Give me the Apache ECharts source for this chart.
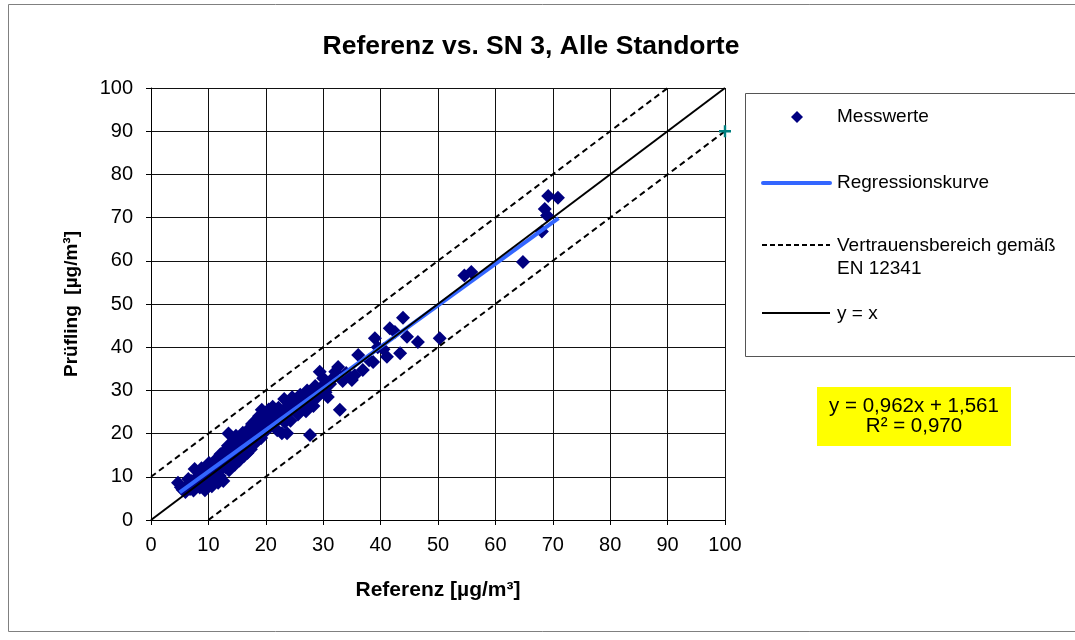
<!DOCTYPE html>
<html><head><meta charset="utf-8">
<script src="https://cdn.jsdelivr.net/npm/echarts@6/dist/echarts.min.js"></script>
<style>html,body{margin:0;padding:0;background:#fff}#c{width:1075px;height:640px}</style>
</head><body><div id="c"></div>
<script>
const titleText = 'Referenz vs. SN 3, Alle Standorte';
const xName = 'Referenz [µg/m³]';
const yName = 'Prüfling  [µg/m³]';
const measured = [
[4.7,8.6],[5.5,7.0],[6.0,6.5],[6.3,8.0],[6.8,7.2],[7.0,9.0],[7.4,6.8],[7.6,11.8],[8.0,8.5],[8.2,10.2],
[8.5,7.5],[8.8,12.0],[9.0,9.3],[9.3,10.8],[9.4,6.9],[9.7,8.4],[9.9,11.5],[10.1,13.2],[10.3,9.6],[10.6,7.8],
[10.8,12.4],[11.0,10.5],[11.3,14.0],[11.5,11.2],[11.7,8.6],[11.9,13.0],[12.1,15.2],[12.3,11.8],[12.4,13.6],[12.6,9.0],
[12.8,16.0],[13.0,12.2],[13.2,14.8],[13.4,17.2],[13.5,20.0],[13.6,11.5],[13.8,15.5],[14.0,13.3],[14.2,18.0],[14.4,16.4],
[14.6,12.8],[14.8,19.5],[15.0,15.0],[15.2,17.0],[15.4,13.8],[15.6,18.6],[15.8,16.2],[16.0,20.2],[16.2,14.8],[16.4,17.5],
[16.6,19.0],[16.8,15.5],[17.0,21.0],[17.2,18.2],[17.4,16.4],[17.6,22.2],[17.8,19.4],[18.0,17.6],[18.2,23.0],[18.4,20.4],
[18.6,18.5],[18.8,24.0],[19.0,21.6],[19.3,25.5],[19.2,19.0],[19.5,22.8],[19.8,24.8],[20.0,20.6],[20.2,23.2],[20.5,25.6],
[20.7,21.5],[21.0,24.0],[21.2,26.2],[21.5,22.4],[21.8,25.0],[22.0,20.8],[22.2,26.0],[22.5,23.6],[22.8,20.1],[23.0,25.2],
[23.2,28.0],[23.5,24.2],[23.7,20.1],[24.0,26.6],[24.3,23.0],[24.6,28.4],[25.0,25.5],[25.3,27.2],[25.6,24.4],[26.0,29.0],
[26.3,26.3],[26.6,28.2],[27.0,25.2],[27.2,30.0],[27.5,27.4],[27.7,19.7],[28.0,29.2],[28.3,26.4],[28.6,31.0],[29.0,28.5],
[29.4,34.3],[29.6,30.6],[30.0,32.8],[30.4,29.6],[30.8,28.5],[31.2,31.5],[31.8,33.0],[32.1,34.3],[32.6,35.4],[32.9,25.5],
[33.4,32.2],[34.0,34.0],[35.0,32.4],[35.5,33.5],[36.1,38.2],[36.9,34.7],[38.0,37.0],[38.7,36.6],[39.0,42.1],[39.5,40.0],
[40.5,39.5],[41.1,37.8],[41.6,44.4],[42.5,43.5],[43.4,38.6],[43.9,46.8],[44.6,42.4],[46.5,41.2],[50.3,42.1],[54.6,56.6],
[55.8,57.4],[64.8,59.7],[68.1,66.8],[68.6,72.0],[69.0,70.5],[69.2,75.0],[70.9,74.6],
[5.2,7.6],[6.5,9.5],[7.2,7.8],[8.3,9.0],[9.6,12.4],[10.5,11.0],[11.2,12.6],[12.0,10.2],[12.9,13.8],[13.9,16.8],
[14.5,14.6],[15.3,16.0],[16.1,17.8],[16.9,17.0],[17.5,19.8],[18.3,21.8],[19.6,20.8],[20.4,22.0],[21.3,23.8],[22.4,24.6],
[23.3,22.6],[24.2,25.4],[25.5,26.5],[26.4,27.6],[27.8,28.2],[28.8,30.0],[30.2,31.0]
];
const regressionLine = [[5,6.371],[71,69.863]];
const identityLine = [[0,0],[100,100]];
const upperBound = [[0,10],[90,100]];
const lowerBound = [[10,0],[100,90]];
const endMarker = [[100,90]];
const legendLabels = ['Messwerte','Regressionskurve','Vertrauensbereich gemäß','EN 12341','y = x'];
const equationLines = ['y = 0,962x + 1,561','R² = 0,970'];

const F = 'Liberation Sans, Arial, sans-serif';
const chart = echarts.init(document.getElementById('c'));
const gridL = 151, gridT = 88, gridR = 350, gridB = 120;
chart.setOption({
  animation:false,
  backgroundColor:'#fff',
  title:{text:titleText,left:526,top:28,textAlign:'center',textStyle:{fontFamily:F,fontSize:26.5,fontWeight:'bold',color:'#000'}},
  grid:{left:gridL,top:gridT,right:gridR,bottom:gridB},
  xAxis:{type:'value',min:0,max:100,interval:10,name:xName,nameLocation:'middle',nameGap:60,
    nameTextStyle:{fontFamily:F,fontSize:21,fontWeight:'bold',color:'#000'},
    axisLine:{lineStyle:{color:'#000',width:1}},axisTick:{show:true,inside:false,length:5,lineStyle:{color:'#000'}},
    axisLabel:{fontFamily:F,fontSize:20,color:'#000',margin:15},
    splitLine:{show:true,lineStyle:{color:'#111',width:1}}},
  yAxis:{type:'value',min:0,max:100,interval:10,name:yName,nameLocation:'middle',nameGap:70,nameRotate:90,
    nameTextStyle:{fontFamily:F,fontSize:19,fontWeight:'bold',color:'#000'},
    axisLine:{show:true,lineStyle:{color:'#000',width:1}},axisTick:{show:true,inside:false,length:5,lineStyle:{color:'#000'}},
    axisLabel:{fontFamily:F,fontSize:20,color:'#000',margin:18},
    splitLine:{show:true,lineStyle:{color:'#111',width:1}}},
  series:[
    {type:'scatter',data:measured,symbol:'diamond',symbolSize:14,itemStyle:{color:'#000080',opacity:1},z:2},
    {type:'line',data:regressionLine,symbol:'none',lineStyle:{color:'#3366ff',width:4},z:3},
    {type:'line',data:identityLine,symbol:'none',lineStyle:{color:'#000',width:2},z:4},
    {type:'line',data:upperBound,symbol:'none',lineStyle:{color:'#000',width:2,type:[6,4]},z:4},
    {type:'line',data:lowerBound,symbol:'none',lineStyle:{color:'#000',width:2,type:[6,4]},z:4},
    {type:'scatter',data:endMarker,symbol:'path://M4,0h2v4h4v2h-4v4h-2v-4h-4v-2h4z',symbolSize:12,itemStyle:{color:'#008080',opacity:1},z:5}
  ],
  graphic:[
    {type:'rect',shape:{x:8.5,y:4.5,width:1100,height:627},style:{fill:'none',stroke:'#808080',lineWidth:1},silent:true,z:-1},
    {type:'rect',shape:{x:745.5,y:93.5,width:400,height:263},style:{fill:'#fff',stroke:'#555',lineWidth:1},z:10},
    {type:'polygon',shape:{points:[[797,111],[803,117],[797,123],[791,117]]},style:{fill:'#000080'},z:11},
    {type:'text',x:837,y:117,style:{text:legendLabels[0],fontFamily:F,fontSize:19,fill:'#000',verticalAlign:'middle'},z:11},
    {type:'line',shape:{x1:763,y1:183,x2:830,y2:183},style:{stroke:'#3366ff',lineWidth:4,lineCap:'round'},z:11},
    {type:'text',x:837,y:183,style:{text:legendLabels[1],fontFamily:F,fontSize:19,fill:'#000',verticalAlign:'middle'},z:11},
    {type:'line',shape:{x1:762,y1:245,x2:830,y2:245},style:{stroke:'#000',lineWidth:2,lineDash:[5,3]},z:11},
    {type:'text',x:837,y:246,style:{text:legendLabels[2],fontFamily:F,fontSize:19,fill:'#000',verticalAlign:'middle'},z:11},
    {type:'text',x:837,y:269,style:{text:legendLabels[3],fontFamily:F,fontSize:19,fill:'#000',verticalAlign:'middle'},z:11},
    {type:'line',shape:{x1:762,y1:313,x2:830,y2:313},style:{stroke:'#000',lineWidth:2},z:11},
    {type:'text',x:837,y:314,style:{text:legendLabels[4],fontFamily:F,fontSize:19,fill:'#000',verticalAlign:'middle'},z:11},
    {type:'rect',shape:{x:817,y:387,width:194,height:59},style:{fill:'#ffff00'},z:10},
    {type:'text',x:914,y:406,style:{text:equationLines[0],fontFamily:F,fontSize:20.5,fill:'#000',align:'center',verticalAlign:'middle'},z:11},
    {type:'text',x:914,y:426,style:{text:equationLines[1],fontFamily:F,fontSize:20.5,fill:'#000',align:'center',verticalAlign:'middle'},z:11}
  ]
});
</script></body></html>
